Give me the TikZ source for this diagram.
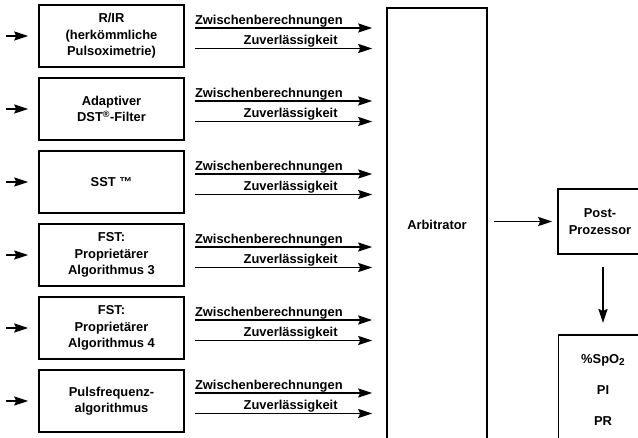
\documentclass[tikz,border=0pt]{standalone}
\usepackage{fontspec}
\setmainfont{Liberation Sans}
\usetikzlibrary{arrows.meta,calc}
\newcommand{\mysub}[1]{\raisebox{-0.3ex}{\fontsize{10}{10}\selectfont #1}}
\begin{document}
\begin{tikzpicture}[x=1pt,y=-1pt,
  every node/.style={font=\fontsize{12.9}{16.5}\selectfont\bfseries},
  algbox/.style={draw,line width=1.6pt,minimum width=145pt,minimum height=62pt,align=center,inner sep=0pt},
  bigbox/.style={draw,line width=1.6pt,align=center,inner sep=0pt},
  arr/.style={line width=1.7pt,-{Stealth[length=14pt,width=9pt,inset=2pt]}},
  lbl/.style={inner sep=0pt}]
\path[use as bounding box] (0,0) rectangle (638,438);
\clip (0,0) rectangle (638,438);
% algorithm boxes
\node[algbox] (b1) at (111.5,36) {R/IR\\(herkömmliche\\Pulsoximetrie)};
\node[algbox] (b2) at (111.5,109) {Adaptiver\\DST\textsuperscript{®}-Filter};
\node[algbox] (b3) at (111.5,182) {SST ™};
\node[algbox] (b4) at (111.5,255) {FST:\\Proprietärer\\Algorithmus 3};
\node[algbox] (b5) at (111.5,328) {FST:\\Proprietärer\\Algorithmus 4};
\node[algbox] (b6) at (111.5,401) {Pulsfrequenz-\\algorithmus};
% arbitrator
\node[bigbox,minimum width=100pt,minimum height=434pt] (arb) at (437,225) {Arbitrator};
\node[bigbox,minimum width=84pt,minimum height=65pt] (post) at (600,221.5) {Post-\\Prozessor};
\node[bigbox,minimum width=84pt,minimum height=120pt,anchor=north west] (out) at (557.5,334) {};
\node (spo) at (603,360) {\%SpO\mysub{2}};
\node (pi) at (603,390) {PI};
\node (pr) at (603,421) {PR};
% arrows and labels
\foreach \i in {1,...,6}{
  \coordinate (in\i) at ($(b\i.west)+(-32,0)$);
  \draw[arr] (in\i) -- ($(b\i.west)+(-10,0)$);
  \coordinate (u\i) at ($(b\i.east)+(10,-8)$);
  \coordinate (l\i) at ($(b\i.east)+(10,12.5)$);
  \draw[arr] (u\i) -- ([xshift=-14pt]arb.west |- u\i);
  \draw[arr] (l\i) -- ([xshift=-14pt]arb.west |- l\i);
  \node[lbl,anchor=base west] (zw\i) at ($(u\i)+(0,-3.5)$) {Zwischenberechnungen};
  \node[lbl,anchor=base east] (zu\i) at ($(l\i)+(143,-3.5)$) {Zuverlässigkeit};
}
\draw[arr] ([xshift=6pt]arb.east |- post.west) -- ([xshift=-5pt]post.west);
\draw[arr] ([yshift=-12pt]post.south -| spo) -- ([yshift=11pt]out.north -| spo);
\end{tikzpicture}
\end{document}
